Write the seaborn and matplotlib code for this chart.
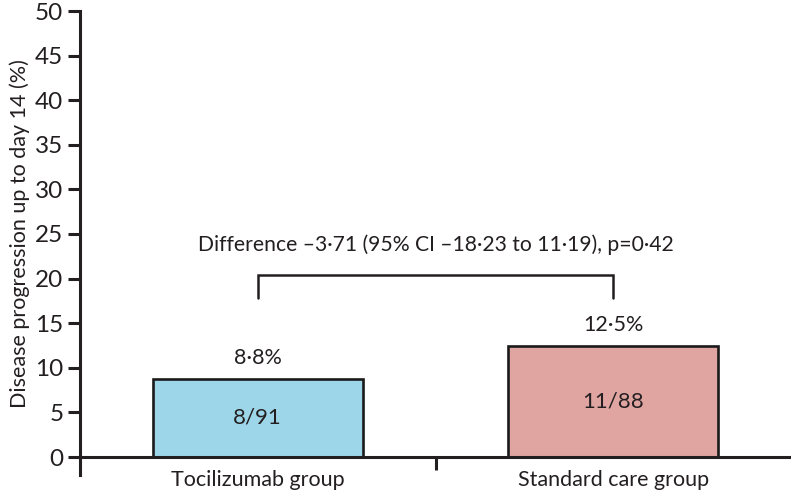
import matplotlib
matplotlib.use("Agg")
import matplotlib.pyplot as plt
import seaborn as sns
import pandas as pd
from matplotlib.ticker import FixedLocator

groups = ["Tocilizumab group", "Standard care group"]
values = [8.8, 12.5]
pct_labels = ["8·8%", "12·5%"]
count_labels = ["8/91", "11/88"]
colors = ["#9dd6e9", "#e0a4a1"]
diff_text = "Difference –3·71 (95% CI –18·23 to 11·19), p=0·42"
ylabel = "Disease progression up to day 14 (%)"
yticks = [0, 5, 10, 15, 20, 25, 30, 35, 40, 45, 50]

sns.set_theme(style="white")
plt.rcParams["font.family"] = ["Lato", "DejaVu Sans"]

fig = plt.figure(figsize=(7.91, 4.97), dpi=100)
ax = fig.add_axes([80 / 791, 40 / 497, 711 / 791, 446 / 497])

df = pd.DataFrame({"group": groups, "value": values})
sns.barplot(data=df, x="group", y="value", hue="group", palette=colors,
            width=0.59, edgecolor="#1a1a1a", linewidth=1.9, legend=False, ax=ax,
            saturation=1)

ax.set_ylim(0, 50)
ax.set_xlim(-0.5, 1.5)
ax.set_yticks(yticks)
ax.set_ylabel(ylabel, fontsize=15.5, color="#231f20", labelpad=4)
ax.set_xlabel("")
for s in ["top", "right"]:
    ax.spines[s].set_visible(False)
for s in ["left", "bottom"]:
    ax.spines[s].set_linewidth(2.2)
    ax.spines[s].set_color("#231f20")
ax.spines["left"].set_bounds(-2, 50)

ax.tick_params(axis="y", which="major", direction="out", length=9, width=2.2,
               color="#231f20", labelsize=17.5, labelcolor="#231f20", pad=3, left=True)
ax.tick_params(axis="x", which="major", length=0, labelsize=15.5,
               labelcolor="#231f20", pad=9, bottom=True)
ax.xaxis.set_minor_locator(FixedLocator([0.5]))
ax.tick_params(axis="x", which="minor", direction="out", length=9, width=2.2,
               color="#231f20", bottom=True)

for i, (v, p, c) in enumerate(zip(values, pct_labels, count_labels)):
    ax.text(i, v + 1.2, p, ha="center", va="bottom", fontsize=15.5, color="#231f20")
    ax.text(i, v / 2, c, ha="center", va="center", fontsize=16, color="#231f20")

# bracket
ax.plot([0, 0, 1, 1], [17.8, 20.4, 20.4, 17.8], color="#231f20", lw=1.8,
        solid_joinstyle="miter")
ax.text(0.5, 23.8, diff_text, ha="center", va="center", fontsize=15.2, color="#231f20")

fig.savefig("out.png", dpi=100)
